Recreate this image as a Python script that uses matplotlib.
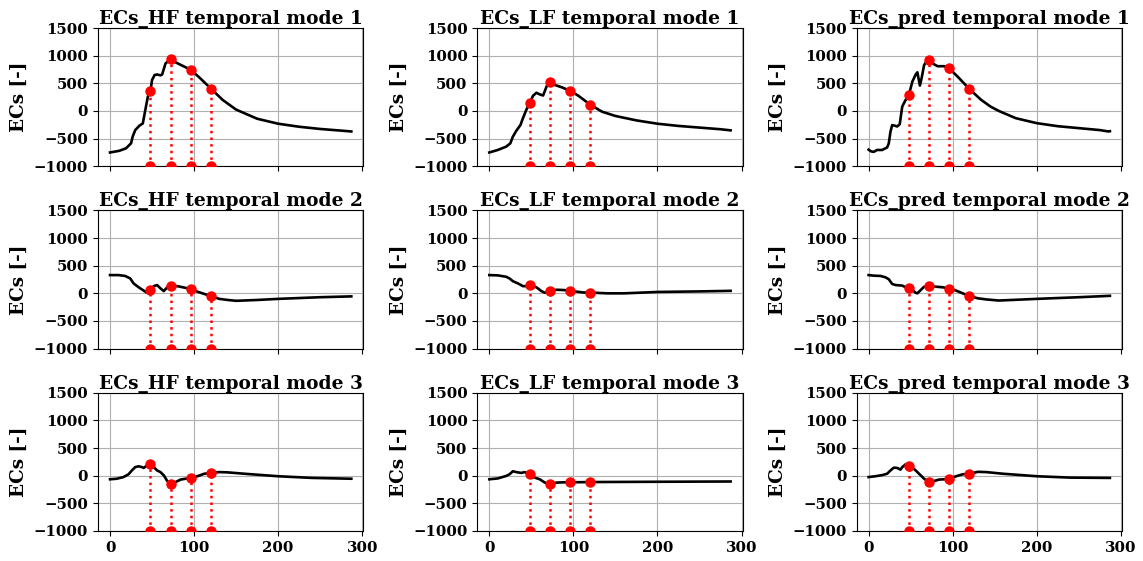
import matplotlib
matplotlib.use("Agg")
import matplotlib.pyplot as plt

plt.rcParams['font.family'] = ['DejaVu Serif']
plt.rcParams['font.weight'] = 'bold'

sources = ["HF", "LF", "pred"]
modes = [1, 2, 3]
marker_x = [48, 72, 96, 120]
y_ticks = [-1000, -500, 0, 500, 1000, 1500]
x_ticks = [0, 100, 200, 300]

# ---- mode 1 ----
hf1_x = [0, 11, 19, 25, 27, 30, 35, 39, 42, 45, 48, 50, 53, 56, 60, 62, 66, 72, 78, 86, 96, 106, 120, 134, 150, 175, 200, 225, 250, 275, 287]
hf1_y = [-750, -720, -675, -585, -460, -345, -265, -225, 20, 260, 355, 560, 650, 660, 645, 660, 860, 935, 880, 820, 745, 610, 405, 200, 25, -140, -230, -285, -325, -355, -370]
lf1_x = [0, 10, 20, 25, 28, 32, 37, 40, 44, 48, 52, 56, 60, 64, 68, 72, 78, 86, 96, 106, 120, 134, 150, 175, 200, 225, 250, 275, 287]
lf1_y = [-750, -705, -645, -585, -465, -360, -255, -130, 20, 145, 275, 330, 300, 280, 440, 530, 470, 430, 365, 275, 115, -12, -90, -170, -230, -270, -300, -330, -350]
pr1_x = [0, 3, 6, 10, 16, 22, 24, 26, 28, 31, 34, 37, 40, 44, 48, 52, 56, 58, 61, 63, 66, 69, 72, 76, 82, 90, 96, 106, 120, 134, 145, 155, 175, 200, 225, 250, 275, 285, 287]
pr1_y = [-700, -730, -740, -705, -705, -660, -585, -375, -255, -265, -280, -240, 80, 200, 295, 530, 660, 700, 460, 590, 830, 900, 915, 860, 810, 810, 770, 620, 395, 200, 80, 0, -130, -220, -275, -310, -345, -370, -365]

# ---- mode 2 ----
hf2_x = [0, 10, 18, 24, 28, 34, 40, 44, 48, 52, 56, 60, 64, 68, 72, 80, 88, 96, 104, 112, 120, 130, 140, 150, 175, 200, 250, 287]
hf2_y = [330, 330, 315, 270, 180, 110, 50, 10, 65, 130, 150, 90, 40, 110, 125, 130, 105, 80, 30, -10, -50, -100, -120, -135, -120, -100, -70, -55]
lf2_x = [0, 10, 20, 24, 28, 34, 40, 44, 48, 56, 62, 66, 72, 80, 88, 96, 104, 112, 120, 140, 160, 200, 250, 287]
lf2_y = [330, 325, 300, 270, 220, 180, 130, 130, 145, 110, 40, 10, 45, 65, 60, 50, 30, 15, 15, 0, 0, 25, 35, 45]
pr2_x = [0, 6, 14, 20, 24, 28, 32, 40, 44, 48, 52, 56, 58, 62, 66, 72, 80, 88, 96, 104, 112, 120, 130, 140, 155, 200, 250, 287]
pr2_y = [330, 320, 315, 290, 255, 170, 150, 140, 110, 100, 60, 10, 0, 60, 120, 125, 120, 110, 85, 50, 0, -50, -90, -110, -130, -100, -70, -45]

# ---- mode 3 ----
hf3_x = [0, 8, 16, 22, 26, 30, 34, 38, 40, 44, 48, 52, 56, 60, 64, 68, 72, 78, 84, 90, 96, 104, 112, 120, 130, 140, 160, 200, 240, 287]
hf3_y = [-65, -55, -25, 25, 95, 155, 170, 155, 140, 185, 205, 155, 95, 65, 5, -95, -145, -115, -70, -55, -40, -10, 35, 50, 65, 60, 35, -10, -40, -55]
lf3_x = [0, 10, 20, 24, 28, 32, 38, 42, 48, 54, 60, 66, 72, 80, 88, 96, 120, 200, 287]
lf3_y = [-65, -50, -5, 25, 80, 65, 50, 65, 30, -35, -65, -125, -150, -125, -120, -120, -115, -110, -105]
pr3_x = [0, 8, 16, 22, 26, 30, 34, 38, 40, 44, 48, 52, 56, 60, 66, 72, 78, 84, 90, 96, 104, 112, 120, 130, 140, 160, 200, 240, 287]
pr3_y = [-25, -10, 10, 35, 95, 145, 140, 110, 155, 205, 180, 145, 95, 35, -55, -115, -95, -70, -65, -55, -10, 25, 35, 70, 65, 35, -10, -35, -40]

series = {
    (1, "HF"): (hf1_x, hf1_y), (1, "LF"): (lf1_x, lf1_y), (1, "pred"): (pr1_x, pr1_y),
    (2, "HF"): (hf2_x, hf2_y), (2, "LF"): (lf2_x, lf2_y), (2, "pred"): (pr2_x, pr2_y),
    (3, "HF"): (hf3_x, hf3_y), (3, "LF"): (lf3_x, lf3_y), (3, "pred"): (pr3_x, pr3_y),
}

fig, axes = plt.subplots(3, 3, figsize=(11.43, 5.61), dpi=100, sharex=True)
fig.subplots_adjust(left=0.0857, right=0.9816, top=0.950, bottom=0.0535,
                    wspace=0.429, hspace=0.319)

for r, mode in enumerate(modes):
    for c, src in enumerate(sources):
        ax = axes[r, c]
        xs, ys = series[(mode, src)]
        ax.plot(xs, ys, color='black', lw=1.9, zorder=3)
        for mx in marker_x:
            my = ys[xs.index(mx)]
            ax.plot([mx, mx], [-1000, my], color='red', ls=':', lw=1.8,
                    marker='o', ms=6.5, zorder=4, clip_on=True)
        ax.set_ylim(-1000, 1500)
        ax.set_yticks(y_ticks)
        ax.set_xticks(x_ticks)
        ax.grid(True, color='#b0b0b0', lw=0.8)
        ax.set_axisbelow(True)
        ax.set_title(f"ECs_{src} temporal mode {mode}", fontsize=13.4,
                     fontweight='bold', pad=3)
        ax.set_ylabel("ECs [-]", fontsize=13.2, fontweight='bold')
        ax.tick_params(labelsize=10.7)

fig.savefig("out.png", dpi=100)
